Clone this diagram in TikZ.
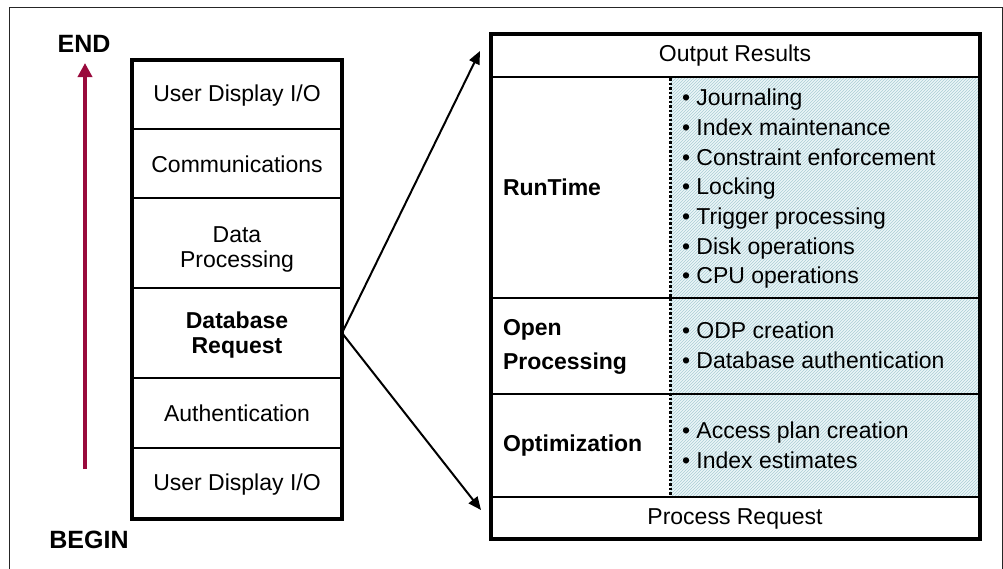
\documentclass[tikz,border=0pt]{standalone}
\usepackage{fontspec}
\setmainfont{Liberation Sans}
\usetikzlibrary{arrows.meta,patterns}
\definecolor{maroon}{RGB}{153,10,60}
\definecolor{hatchbg}{RGB}{236,246,248}
\definecolor{hatchln}{RGB}{170,205,212}
\begin{document}
\begin{tikzpicture}[x=1pt,y=-1pt,
  every node/.style={inner sep=0pt,outer sep=0pt},
  txt/.style={font=\fontsize{23}{25}\selectfont,align=center},
  btxt/.style={font=\fontsize{23}{25}\selectfont\bfseries,align=center},
  big/.style={font=\fontsize{25}{27}\selectfont\bfseries,align=center},
  lbl/.style={font=\fontsize{23}{34}\selectfont\bfseries,align=left,anchor=west},
  items/.style={font=\fontsize{23}{29.7}\selectfont,align=left,anchor=north west},
  thickbox/.style={draw=black,line width=3.5pt},
  sep/.style={draw=black,line width=1.5pt},
  con/.style={draw=black,line width=2pt,-{Triangle[length=13pt,width=11pt]}}]
\useasboundingbox (0,0) rectangle (1003,568);
\draw[line width=1pt,draw=black!85] (9,569) -- (9,7) -- (1002,7) -- (1002,569);
% red arrow
\node[big] (endlbl) at (84,44) {END};
\node[big] (beginlbl) at (89,540) {BEGIN};
\coordinate (rbot) at (85,469);
\coordinate (rtop) at (85,63);
\draw[draw=maroon,line width=4pt,-{Triangle[length=14pt,width=14pt]}] (rbot) -- (rtop);
% left stack
\foreach \y in {129,198,288,378,448} \draw[sep] (132,\y) -- (342,\y);
\draw[thickbox] (132,60) rectangle (342,519);
\node[txt] (l1) at (237,96) {User Display I/O};
\node[txt] (l2) at (237,164) {Communications};
\node[txt] (l3) at (237,249) {Data\\Processing};
\node[btxt] (dbreq) at (237,335) {Database\\Request};
\node[txt] (l5) at (237,413) {Authentication};
\node[txt] (l6) at (237,485) {User Display I/O};
\coordinate (dbR) at (342,333);
% right box
\fill[hatchbg] (670,77) rectangle (980,497);
\fill[pattern=north east lines,pattern color=hatchln] (670,77) rectangle (980,497);
\foreach \y in {77,298,394,497} \draw[sep] (491,\y) -- (980,\y);
\draw[black,line width=3pt,dash pattern=on 2.5pt off 2pt] (670,78) -- (670,496);
\draw[thickbox] (491,34) rectangle (980,539);
\node[txt] (out) at (735,56) {Output Results};
\node[txt] (proc) at (735,519) {Process Request};
\node[lbl] (rt) at (503,187) {RunTime};
\node[lbl] (op) at (503,347) {Open\\Processing};
\node[lbl] (opt) at (503,446) {Optimization};
\node[items] (rtitems) at (682,89) {• Journaling\\• Index maintenance\\• Constraint enforcement\\• Locking\\• Trigger processing\\• Disk operations\\• CPU operations};
\node[items] (opitems) at (682,322) {• ODP creation\\• Database authentication};
\node[items] (optitems) at (682,422) {• Access plan creation\\• Index estimates};
\coordinate (tipTop) at (480,51);
\coordinate (tipBot) at (481,510);
\draw[con] (dbR) -- (tipTop);
\draw[con] (dbR) -- (tipBot);
\end{tikzpicture}
\end{document}
